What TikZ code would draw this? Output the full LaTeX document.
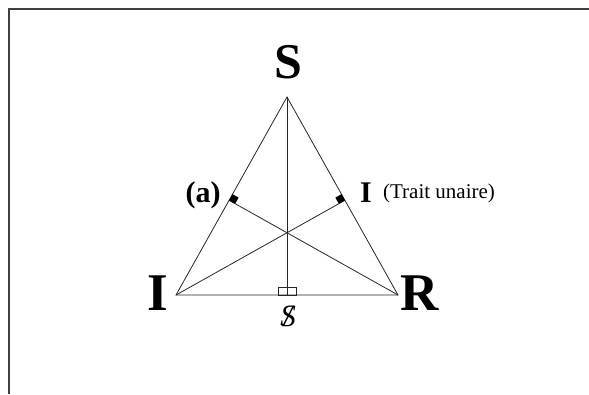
\documentclass[tikz,border=0pt]{standalone}
\usepackage{fontspec}
\setmainfont{Liberation Serif}
\usetikzlibrary{calc}

\begin{document}
\begin{tikzpicture}[x=1pt, y=-1pt,
				ecke/.style={font=\fontsize{53}{53}\selectfont\bfseries, inner sep=0pt},
				seite/.style={draw=black!85, line width=0.8pt},
				font=\fontsize{21}{21}\selectfont]
				%Bildbereich und Rahmen
				\useasboundingbox (0,0) rectangle (589,394);
				\draw[black!75, line width=1.3pt] (9,394) -- (9,9) -- (589,9);
				% Ecken
				\coordinate (S) at (287,97);
				\coordinate (I) at (176,295);
				\coordinate (R) at (398,295);
				% Fusspunkte der Hoehen
				\coordinate (Hs) at ($(I)!(S)!(R)$);
				\coordinate (Hi) at ($(S)!(I)!(R)$);
				\coordinate (Hr) at ($(S)!(R)!(I)$);
				% Dreieck und Hoehen zeichnen
				\draw[seite] (S) -- (I) -- (R) -- cycle;
				\draw[seite] (S) -- (Hs);
				\draw[seite] (I) -- (Hi);
				\draw[seite] (R) -- (Hr);
				% rechte Winkel
				\foreach \f/\a/\b in {Hr/S/R, Hi/S/I} {
					\coordinate (w1) at ($(\f)!7pt!(\a)$);
					\coordinate (w2) at ($(\f)!7pt!(\b)$);
					\fill[black] (\f) -- (w1) -- ($(w1)+(w2)-(\f)$) -- (w2) -- cycle;
				}
				\draw[seite] ($(Hs)+(-9,0)$) rectangle ($(Hs)+(9,-8)$);
				%Beschriftung
				\node[ecke, font=\fontsize{50}{50}\selectfont\bfseries] (tS) at (288,62) {S};
				\node[ecke] (tI) at (158,293) {I};
				\node[ecke] (tR) at (420,293) {R};
				\node[inner sep=0pt, font=\fontsize{30}{30}\selectfont\bfseries] (ta) at (203,195) {(a)};
				\node[inner sep=0pt, font=\fontsize{30}{30}\selectfont\bfseries] (tI2) at (366,193) {I};
				\node[inner sep=0pt] (tTrait) at (439,193) {(Trait unaire)};
				\node[inner sep=0pt, font=\fontsize{31}{31}\selectfont\itshape] (tSx) at (288,316)
					{\ooalign{S\cr\hidewidth/\hidewidth\cr}};
			\end{tikzpicture}
\end{document}
